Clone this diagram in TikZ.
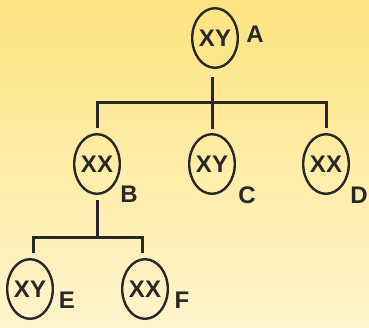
\documentclass[tikz,border=0pt]{standalone}
\usepackage{fontspec}
\setmainfont{Liberation Sans}
\usepackage{xcolor}
\usetikzlibrary{shapes.geometric}
\definecolor{bgtop}{RGB}{254,227,128}
\definecolor{bgbot}{RGB}{255,245,205}
\definecolor{ink}{RGB}{40,40,40}
\tikzset{
  cell/.style={ellipse, draw=ink, line width=2.4pt, minimum width=45.6pt,
    minimum height=59.6pt, inner sep=0pt},
  tag/.style={inner sep=0pt},
  tree/.style={draw=ink, line width=3pt}
}
\newcommand{\gene}[4]{\node[cell] (#1) at (#2,#3) {#4};}
\newcommand{\tagat}[4]{\node[tag] (#1) at (#2,#3) {#4};}

\begin{document}
\begin{tikzpicture}[x=1pt, y=-1pt,
  every node/.style={text=ink, font=\bfseries\fontsize{24}{24}\selectfont}]
% background
\fill[top color=bgtop, bottom color=bgbot] (0,0) rectangle (369,327);
% chromosome pairs
\gene{A}{215}{38}{XY}
\gene{B}{97}{164}{XX}
\gene{C}{212}{164}{XY}
\gene{D}{326}{164}{XX}
\gene{E}{30}{289}{XY}
\gene{F}{145}{289}{XX}
% letters
\tagat{lA}{255}{34}{A}
\tagat{lB}{129}{194}{B}
\tagat{lC}{247}{195}{C}
\tagat{lD}{359}{195}{D}
\tagat{lE}{67}{300}{E}
\tagat{lF}{182}{300}{F}
% branches from A
\coordinate (jA) at (212,102);
\draw[tree] (jA |- A.south) ++(0,8) -- ([yshift=4pt]C.north);
\draw[tree] ([yshift=5pt]B.north) |- (jA) -| ([yshift=5pt]D.north);
% branches from B
\coordinate (jB) at (97,237);
\draw[tree] (jB |- B.south) ++(0,5) -- (jB);
\draw[tree] ([xshift=3pt,yshift=5pt]E.north) |- (jB)
  -| ([xshift=-3pt,yshift=5pt]F.north);
\end{tikzpicture}
\end{document}
